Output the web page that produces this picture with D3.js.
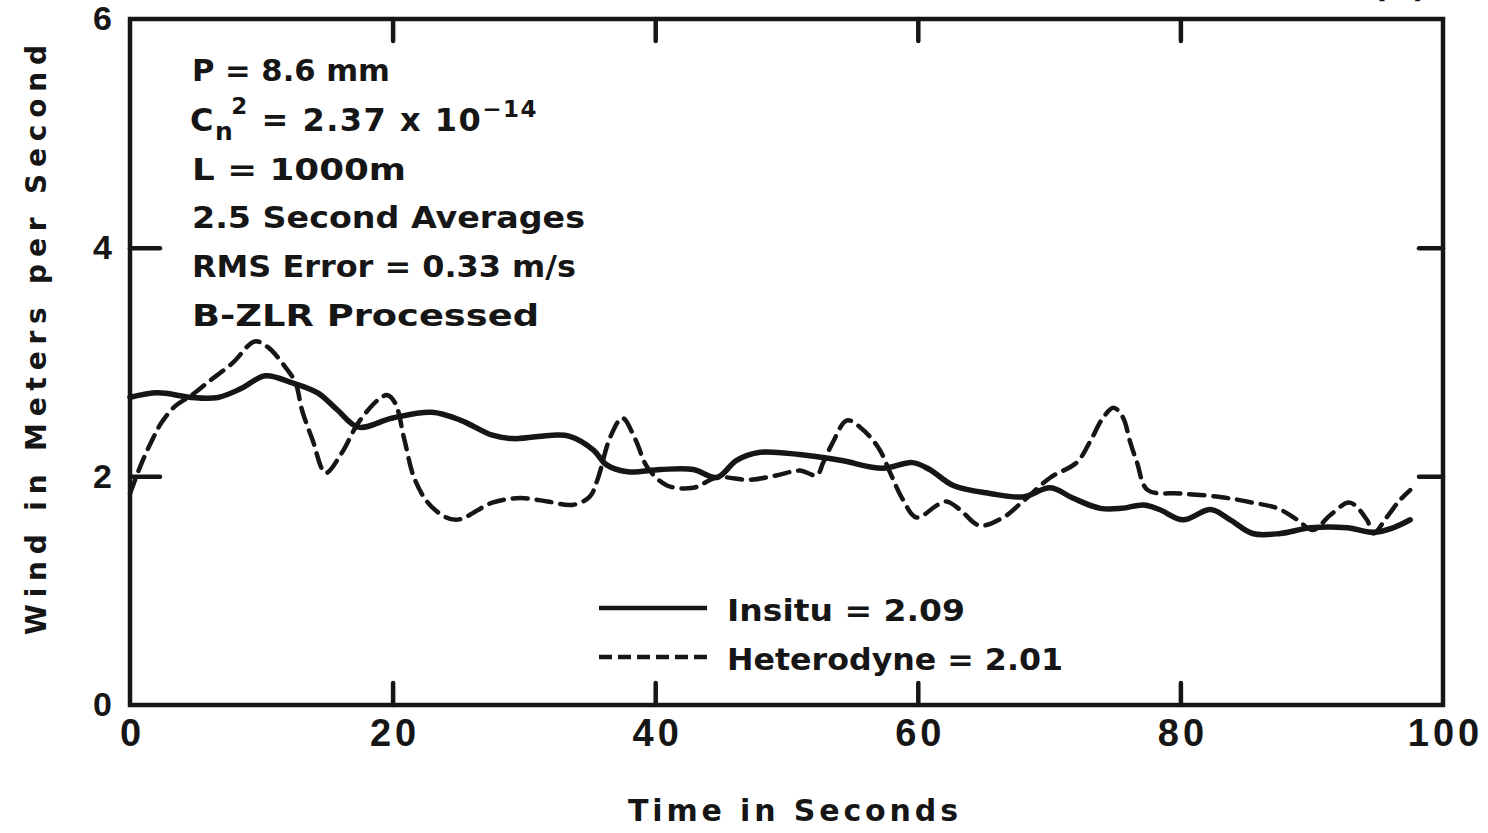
<!DOCTYPE html>
<html>
<head>
<meta charset="utf-8">
<script src="https://cdn.jsdelivr.net/npm/d3@7/dist/d3.min.js"></script>
<style>
  html, body { margin: 0; padding: 0; background: #fff; }
  svg { display: block; }
  text { font-family: "DejaVu Sans", "Liberation Sans", sans-serif; font-weight: bold; fill: #161616; }
</style>
</head>
<body>
<svg id="chart" width="1488" height="833"></svg>
<script>
// Wind speed, 2.5 s averages: in-situ anemometer vs. heterodyne measurement
const insituTime = [0, 2.1, 4.7, 6.7, 8.5, 10.3, 12.3, 14.3, 15.8, 17.4, 20, 23, 25.2, 27.6, 29.2, 32.2, 33.5,
  35.3, 36.3, 37.9, 40.4, 42.9, 44.7, 46.2, 48, 51, 54.1, 57.3, 59.6, 60.9, 62.7, 65.5, 68, 70.1, 71.8,
  73.9, 75.5, 77.2, 78.4, 80.2, 82.3, 83.8, 85.5, 87.6, 89.9, 92.7, 94.7, 96.2, 97.5];
const insituWind = [2.69, 2.73, 2.69, 2.69, 2.77, 2.88, 2.82, 2.73, 2.58, 2.43, 2.51, 2.56, 2.49, 2.36, 2.33, 2.36, 2.35,
  2.23, 2.10, 2.04, 2.06, 2.06, 1.99, 2.14, 2.21, 2.19, 2.14, 2.07, 2.12, 2.06, 1.92, 1.85, 1.82, 1.90, 1.81,
  1.72, 1.72, 1.75, 1.71, 1.62, 1.71, 1.62, 1.50, 1.50, 1.55, 1.55, 1.51, 1.55, 1.62];

const hetTime = [0, 0.9, 1.7, 2.4, 3.4, 4.7, 5.9, 7.8, 9.5, 10.5, 11.8, 12.6, 13.1, 13.9, 14.9, 16.1, 17.4, 18.9,
  19.6, 20.2, 20.9, 21.7, 23, 24.8, 27.6, 29.7, 31.8, 33.7, 35, 35.6, 36.6, 37.5, 38.5, 39.4, 40.9, 42.9,
  44.7, 47.2, 49.3, 51, 52.3, 52.8, 53.5, 54.6, 55.6, 57, 57.9, 58.8, 59.9, 61.5, 62.2, 63.2, 64.7, 66.5,
  68, 70.1, 72.1, 73.1, 74.1, 74.9, 75.6, 76.2, 76.7, 77.5, 80, 83, 85.5, 87.4, 88.9, 90.1, 91.4, 92.9,
  94.2, 94.7, 95.7, 96.7, 97.5];
const hetWind = [1.85, 2.12, 2.32, 2.47, 2.61, 2.71, 2.82, 2.99, 3.18, 3.13, 2.96, 2.82, 2.58, 2.32, 2.03, 2.20, 2.47, 2.67,
  2.71, 2.64, 2.32, 1.97, 1.73, 1.62, 1.77, 1.81, 1.78, 1.75, 1.82, 1.97, 2.35, 2.51, 2.32, 2.08, 1.92, 1.90,
  1.99, 1.97, 2.01, 2.05, 2.01, 2.12, 2.29, 2.49, 2.43, 2.25, 2.03, 1.81, 1.64, 1.75, 1.78, 1.71, 1.57, 1.64,
  1.78, 1.99, 2.12, 2.30, 2.51, 2.60, 2.52, 2.29, 2.12, 1.88, 1.85, 1.82, 1.77, 1.72, 1.62, 1.53, 1.66, 1.77,
  1.62, 1.50, 1.64, 1.79, 1.88];

const xTicks = [0, 20, 40, 60, 80, 100];
const yTicks = [0, 2, 4, 6];
const innerXTicks = [20, 40, 60, 80];
const innerYTicks = [2, 4];

const notes = ["P = 8.6 mm", "L = 1000m", "2.5 Second Averages", "RMS Error = 0.33 m/s", "B-ZLR Processed"];
const legendLabels = ["Insitu = 2.09", "Heterodyne = 2.01"];

const ink = "#161616";
const tickFont = "'Liberation Sans', Arial, sans-serif";
const svg = d3.select("#chart");

const x = d3.scaleLinear().domain([0, 100]).range([130, 1443]);
const y = d3.scaleLinear().domain([0, 6]).range([705, 19]);

// frame
svg.append("rect")
  .attr("x", x(0)).attr("y", y(6))
  .attr("width", x(100) - x(0)).attr("height", y(0) - y(6))
  .attr("fill", "none").attr("stroke", ink).attr("stroke-width", 4.5);

// inward ticks on all four sides
function tickAxis(axis, tx, ty) {
  const g = svg.append("g").attr("transform", `translate(${tx},${ty})`).call(axis);
  g.select(".domain").remove();
  g.selectAll(".tick line").attr("stroke", ink).attr("stroke-width", 4.5).attr("stroke-linecap", "round");
  g.selectAll(".tick text").remove();
  return g;
}
tickAxis(d3.axisBottom(x).tickValues(innerXTicks).tickSize(-22), 0, y(0));
tickAxis(d3.axisTop(x).tickValues(innerXTicks).tickSize(-22), 0, y(6));
tickAxis(d3.axisLeft(y).tickValues(innerYTicks).tickSize(-30), x(0), 0);
tickAxis(d3.axisRight(y).tickValues(innerYTicks).tickSize(-24), x(100), 0);

// tick labels
const xLab = svg.append("g").attr("transform", `translate(0,${y(0)})`)
  .call(d3.axisBottom(x).tickValues(xTicks).tickSize(0).tickPadding(14).tickFormat(d3.format("d")));
xLab.select(".domain").remove();
xLab.selectAll("text").attr("font-size", 38).attr("letter-spacing", 4).attr("dx", 2).attr("fill", ink)
  .style("font-family", tickFont).style("font-weight", "bold");

const yLab = svg.append("g").attr("transform", `translate(${x(0)},0)`)
  .call(d3.axisLeft(y).tickValues(yTicks).tickSize(0).tickPadding(18).tickFormat(d3.format("d")));
yLab.select(".domain").remove();
yLab.selectAll("text").attr("font-size", 34).attr("fill", ink)
  .style("font-family", tickFont).style("font-weight", "bold");

// axis titles
svg.append("text").attr("x", 628).attr("y", 821).attr("font-size", 30)
  .attr("textLength", 330).attr("lengthAdjust", "spacing").text("Time in Seconds");
svg.append("text").attr("transform", "translate(46,635) rotate(-90)").attr("font-size", 28)
  .attr("textLength", 590).attr("lengthAdjust", "spacing").text("Wind in Meters per Second");

// panel tag at the top edge
svg.append("text").attr("x", 1372).attr("y", -3).attr("font-size", 34).attr("font-weight", "normal").text("(b)");

// annotation block
const noteX = 192;
const noteRows = [
  { t: notes[0], y: 81, w: 198 },
  { t: notes[1], y: 180, w: 214 },
  { t: notes[2], y: 228, w: 393 },
  { t: notes[3], y: 277, w: 384 },
  { t: notes[4], y: 326, w: 347 }
];
svg.selectAll("text.note").data(noteRows).join("text")
  .attr("class", "note")
  .attr("x", noteX).attr("y", d => d.y).attr("font-size", 31)
  .attr("textLength", d => d.w).attr("lengthAdjust", "spacingAndGlyphs")
  .text(d => d.t);

// Cn^2 line with sub/superscripts
const cn = svg.append("text").attr("x", 190).attr("y", 131).attr("font-size", 32).attr("letter-spacing", 1.5);
cn.append("tspan").text("C");
cn.append("tspan").attr("font-size", 25).attr("dy", 9).text("n");
cn.append("tspan").attr("font-size", 23).attr("dx", -3).attr("dy", -26).text("2");
cn.append("tspan").attr("dy", 17).text(" = 2.37 x 10");
cn.append("tspan").attr("font-size", 23).attr("dy", -14).text("\u221214");

// curves
const line = d3.line()
  .x(d => x(d[0])).y(d => y(d[1]))
  .curve(d3.curveCatmullRom.alpha(0.5));

svg.append("path")
  .datum(insituTime.map((t, i) => [t, insituWind[i]]))
  .attr("d", line)
  .attr("fill", "none").attr("stroke", ink).attr("stroke-width", 5.5)
  .attr("stroke-linejoin", "round").attr("stroke-linecap", "round");

svg.append("path")
  .datum(hetTime.map((t, i) => [t, hetWind[i]]))
  .attr("d", line)
  .attr("fill", "none").attr("stroke", ink).attr("stroke-width", 4.5)
  .attr("stroke-dasharray", "15 9").attr("stroke-linecap", "round");

// legend
const legend = svg.append("g");
legend.append("line").attr("x1", 599).attr("x2", 707).attr("y1", 608).attr("y2", 608)
  .attr("stroke", ink).attr("stroke-width", 4.5);
legend.append("line").attr("x1", 599).attr("x2", 707).attr("y1", 657).attr("y2", 657)
  .attr("stroke", ink).attr("stroke-width", 4.5).attr("stroke-dasharray", "13 6");
legend.append("text").attr("x", 727).attr("y", 621).attr("font-size", 31)
  .attr("textLength", 238).attr("lengthAdjust", "spacingAndGlyphs").text(legendLabels[0]);
legend.append("text").attr("x", 727).attr("y", 670).attr("font-size", 31)
  .attr("textLength", 336).attr("lengthAdjust", "spacingAndGlyphs").text(legendLabels[1]);
</script>
</body>
</html>
